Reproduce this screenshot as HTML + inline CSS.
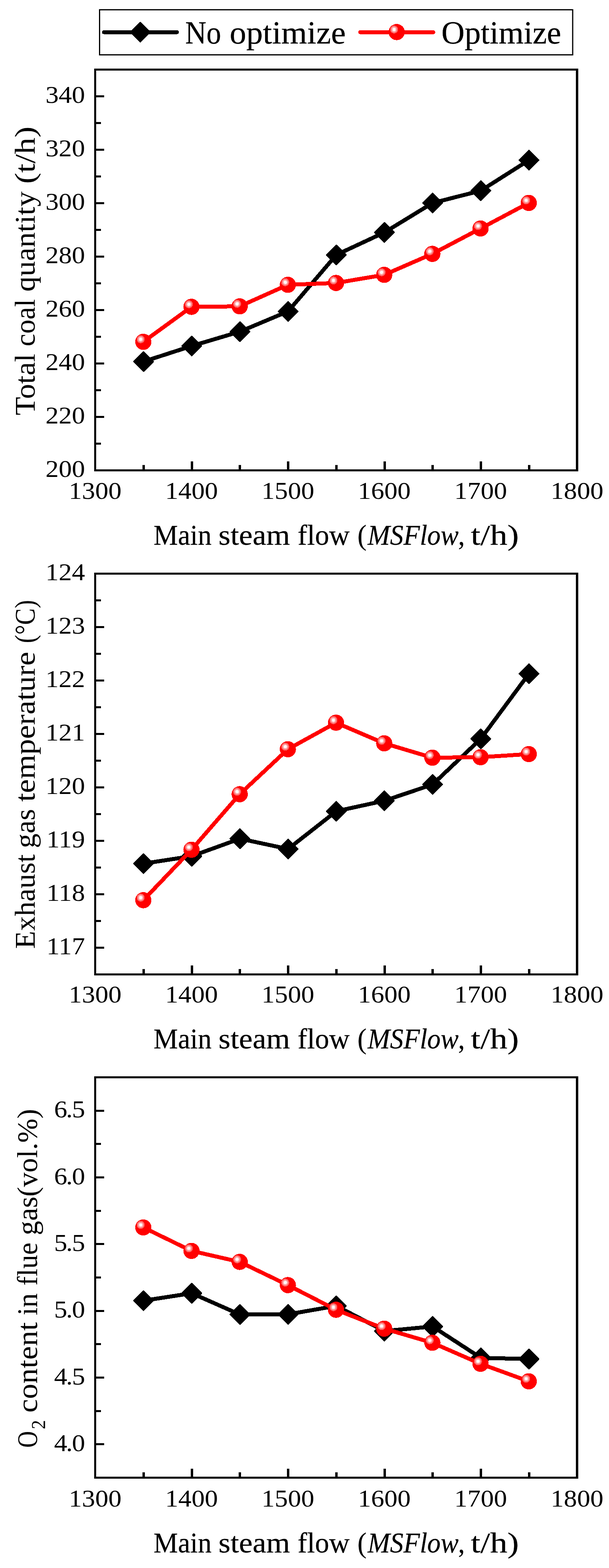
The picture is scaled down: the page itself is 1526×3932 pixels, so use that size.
<!DOCTYPE html>
<html lang="en"><head><meta charset="utf-8"><title>Main steam flow comparison</title>
<style>
html,body{margin:0;padding:0;background:#fff;}
body{width:1526px;height:3932px;overflow:hidden;}
svg{display:block;}
text{font-family:"Liberation Serif", "DejaVu Serif", serif;fill:#000;font-variant-ligatures:none;}
.b{stroke:#000;stroke-width:0.3px;stroke-linejoin:round;}
.fr{fill:#000;shape-rendering:crispEdges;}
.bl{fill:none;stroke:#000;stroke-width:10;stroke-linejoin:round;stroke-linecap:round;shape-rendering:crispEdges;}
.rl{fill:none;stroke:#f00;stroke-width:10;stroke-linejoin:round;stroke-linecap:round;shape-rendering:crispEdges;}
.dm{fill:#000;stroke:#000;stroke-width:3;stroke-linejoin:round;shape-rendering:crispEdges;}
#ball circle{shape-rendering:crispEdges;}
</style></head><body>
<svg width="1526" height="3932" viewBox="0 0 1526 3932">
<defs><g id="ball"><circle cx="0" cy="0" r="20.3" fill="#f00"/><circle cx="-6.5" cy="-6.4" r="10" fill="#ff6666"/><circle cx="-6.5" cy="-6.4" r="7" fill="#ffaaaa"/><circle cx="-6.5" cy="-6.4" r="4" fill="#fff8f8"/></g></defs>
<rect x="0" y="0" width="1526" height="3932" fill="#fff"/>
<rect x="249.5" y="24.5" width="1185.5" height="113" fill="none" stroke="#000" stroke-width="3"/>
<path class="bl" d="M260.5 80.7H443.4"/>
<path class="dm" d="M351.5 56.2L376.0 80.7L351.5 105.2L327.0 80.7Z"/>
<text class="b"><tspan x="464.05" y="109.30" font-size="80.30" textLength="89.85" lengthAdjust="spacingAndGlyphs">No</tspan> <tspan x="575.40" y="109.30" font-size="80.30" textLength="290.93" lengthAdjust="spacingAndGlyphs">optimize</tspan></text>
<path class="rl" d="M902.6 80.7H1085.7"/>
<use href="#ball" x="994.0" y="80.4"/>
<text class="b"><tspan x="1105.98" y="109.30" font-size="80.30" textLength="300.19" lengthAdjust="spacingAndGlyphs">Optimize</tspan></text>
<g class="fr">
<rect x="236" y="172" width="5" height="1010"/>
<rect x="1443" y="172" width="6" height="1010"/>
<rect x="236" y="172" width="1213" height="5"/>
<rect x="236" y="1177" width="1213" height="5"/>
<rect x="240" y="1177.0" width="21" height="5"/>
<rect x="240" y="1043.0" width="21" height="5"/>
<rect x="240" y="909.0" width="21" height="5"/>
<rect x="240" y="775.0" width="21" height="5"/>
<rect x="240" y="641.0" width="21" height="5"/>
<rect x="240" y="507.0" width="21" height="5"/>
<rect x="240" y="373.0" width="21" height="5"/>
<rect x="240" y="239.0" width="21" height="5"/>
<rect x="240" y="1110.0" width="13" height="5"/>
<rect x="240" y="976.0" width="13" height="5"/>
<rect x="240" y="842.0" width="13" height="5"/>
<rect x="240" y="708.0" width="13" height="5"/>
<rect x="240" y="574.0" width="13" height="5"/>
<rect x="240" y="440.0" width="13" height="5"/>
<rect x="240" y="306.0" width="13" height="5"/>
<rect x="477.5" y="1157" width="6" height="21"/>
<rect x="719.0" y="1157" width="6" height="21"/>
<rect x="960.5" y="1157" width="6" height="21"/>
<rect x="1202.0" y="1157" width="6" height="21"/>
<rect x="356.8" y="1166" width="6" height="12"/>
<rect x="598.2" y="1166" width="6" height="12"/>
<rect x="839.8" y="1166" width="6" height="12"/>
<rect x="1081.2" y="1166" width="6" height="12"/>
<rect x="1322.8" y="1166" width="6" height="12"/>
</g>
<text><tspan x="113.95" y="1196.00" font-size="61.00" textLength="99.15" lengthAdjust="spacingAndGlyphs">200</tspan></text>
<text><tspan x="113.95" y="1062.00" font-size="61.00" textLength="99.15" lengthAdjust="spacingAndGlyphs">220</tspan></text>
<text><tspan x="113.95" y="928.00" font-size="61.00" textLength="99.15" lengthAdjust="spacingAndGlyphs">240</tspan></text>
<text><tspan x="113.95" y="794.00" font-size="61.00" textLength="99.15" lengthAdjust="spacingAndGlyphs">260</tspan></text>
<text><tspan x="113.95" y="660.00" font-size="61.00" textLength="99.15" lengthAdjust="spacingAndGlyphs">280</tspan></text>
<text><tspan x="113.95" y="526.00" font-size="61.00" textLength="99.15" lengthAdjust="spacingAndGlyphs">300</tspan></text>
<text><tspan x="113.95" y="392.00" font-size="61.00" textLength="99.15" lengthAdjust="spacingAndGlyphs">320</tspan></text>
<text><tspan x="113.95" y="258.00" font-size="61.00" textLength="99.15" lengthAdjust="spacingAndGlyphs">340</tspan></text>
<text><tspan x="172.30" y="1251.00" font-size="61.00" textLength="132.20" lengthAdjust="spacingAndGlyphs">1300</tspan></text>
<text><tspan x="413.80" y="1251.00" font-size="61.00" textLength="132.20" lengthAdjust="spacingAndGlyphs">1400</tspan></text>
<text><tspan x="655.30" y="1251.00" font-size="61.00" textLength="132.20" lengthAdjust="spacingAndGlyphs">1500</tspan></text>
<text><tspan x="896.80" y="1251.00" font-size="61.00" textLength="132.20" lengthAdjust="spacingAndGlyphs">1600</tspan></text>
<text><tspan x="1138.30" y="1251.00" font-size="61.00" textLength="132.20" lengthAdjust="spacingAndGlyphs">1700</tspan></text>
<text><tspan x="1379.80" y="1251.00" font-size="61.00" textLength="132.20" lengthAdjust="spacingAndGlyphs">1800</tspan></text>
<text class="b"><tspan x="384.82" y="1365.90" font-size="71.60" textLength="145.28" lengthAdjust="spacingAndGlyphs">Main</tspan> <tspan x="547.60" y="1365.90" font-size="71.60" textLength="179.24" lengthAdjust="spacingAndGlyphs">steam</tspan> <tspan x="745.79" y="1365.90" font-size="71.60" textLength="130.35" lengthAdjust="spacingAndGlyphs">flow</tspan> <tspan x="895.77" y="1365.90" font-size="71.60" textLength="22.73" lengthAdjust="spacingAndGlyphs">(</tspan><tspan x="921.35" y="1365.90" font-size="71.60" textLength="227.62" lengthAdjust="spacingAndGlyphs" font-style="italic">MSFlow</tspan><tspan x="1147.90" y="1365.90" font-size="71.60" textLength="16.80" lengthAdjust="spacingAndGlyphs">,</tspan> <tspan x="1179.70" y="1365.90" font-size="71.60" textLength="120.54" lengthAdjust="spacingAndGlyphs">t/h)</tspan></text>
<text transform="translate(87.1,0) rotate(-90)"><tspan x="-1041.58" y="0.00" font-size="72.30" textLength="154.71" lengthAdjust="spacingAndGlyphs">Total</tspan> <tspan x="-868.42" y="0.00" font-size="72.30" textLength="118.49" lengthAdjust="spacingAndGlyphs">coal</tspan> <tspan x="-731.40" y="0.00" font-size="72.30" textLength="251.40" lengthAdjust="spacingAndGlyphs">quantity</tspan> <tspan x="-461.01" y="0.00" font-size="72.30" textLength="143.83" lengthAdjust="spacingAndGlyphs">(t/h)</tspan></text>
<path class="bl" d="M359.7 906.7L480.4 867.6L601.2 831.6L721.9 780.8L842.6 639.2L963.3 582.8L1084.0 509.0L1204.8 478.2L1325.5 401.5"/>
<path class="dm" d="M359.7 882.2L384.2 906.7L359.7 931.2L335.2 906.7Z"/>
<path class="dm" d="M480.4 843.1L504.9 867.6L480.4 892.1L455.9 867.6Z"/>
<path class="dm" d="M601.2 807.1L625.7 831.6L601.2 856.1L576.7 831.6Z"/>
<path class="dm" d="M721.9 756.3L746.4 780.8L721.9 805.3L697.4 780.8Z"/>
<path class="dm" d="M842.6 614.7L867.1 639.2L842.6 663.7L818.1 639.2Z"/>
<path class="dm" d="M963.3 558.3L987.8 582.8L963.3 607.3L938.8 582.8Z"/>
<path class="dm" d="M1084.0 484.5L1108.5 509.0L1084.0 533.5L1059.5 509.0Z"/>
<path class="dm" d="M1204.8 453.7L1229.3 478.2L1204.8 502.7L1180.3 478.2Z"/>
<path class="dm" d="M1325.5 377.0L1350.0 401.5L1325.5 426.0L1301.0 401.5Z"/>
<path class="rl" d="M359.1 857.2L479.8 769.4L600.6 768.2L721.3 714.2L842.0 709.6L962.7 689.2L1083.4 636.6L1204.2 573.0L1324.9 508.8"/>
<use href="#ball" x="359.1" y="857.2"/>
<use href="#ball" x="479.8" y="769.4"/>
<use href="#ball" x="600.6" y="768.2"/>
<use href="#ball" x="721.3" y="714.2"/>
<use href="#ball" x="842.0" y="709.6"/>
<use href="#ball" x="962.7" y="689.2"/>
<use href="#ball" x="1083.4" y="636.6"/>
<use href="#ball" x="1204.2" y="573.0"/>
<use href="#ball" x="1324.9" y="508.8"/>
<g class="fr">
<rect x="236" y="1436" width="5" height="1010"/>
<rect x="1443" y="1436" width="6" height="1010"/>
<rect x="236" y="1436" width="1213" height="5"/>
<rect x="236" y="2441" width="1213" height="5"/>
<rect x="240" y="2374.0" width="21" height="5"/>
<rect x="240" y="2240.0" width="21" height="5"/>
<rect x="240" y="2106.0" width="21" height="5"/>
<rect x="240" y="1972.0" width="21" height="5"/>
<rect x="240" y="1838.0" width="21" height="5"/>
<rect x="240" y="1704.0" width="21" height="5"/>
<rect x="240" y="1570.0" width="21" height="5"/>
<rect x="240" y="1436.0" width="21" height="5"/>
<rect x="240" y="2307.0" width="13" height="5"/>
<rect x="240" y="2173.0" width="13" height="5"/>
<rect x="240" y="2039.0" width="13" height="5"/>
<rect x="240" y="1905.0" width="13" height="5"/>
<rect x="240" y="1771.0" width="13" height="5"/>
<rect x="240" y="1637.0" width="13" height="5"/>
<rect x="240" y="1503.0" width="13" height="5"/>
<rect x="477.5" y="2421" width="6" height="21"/>
<rect x="719.0" y="2421" width="6" height="21"/>
<rect x="960.5" y="2421" width="6" height="21"/>
<rect x="1202.0" y="2421" width="6" height="21"/>
<rect x="356.8" y="2430" width="6" height="12"/>
<rect x="598.2" y="2430" width="6" height="12"/>
<rect x="839.8" y="2430" width="6" height="12"/>
<rect x="1081.2" y="2430" width="6" height="12"/>
<rect x="1322.8" y="2430" width="6" height="12"/>
</g>
<text><tspan x="116.40" y="2393.00" font-size="61.00" textLength="96.70" lengthAdjust="spacingAndGlyphs">117</tspan></text>
<text><tspan x="116.40" y="2259.00" font-size="61.00" textLength="96.70" lengthAdjust="spacingAndGlyphs">118</tspan></text>
<text><tspan x="116.40" y="2125.00" font-size="61.00" textLength="96.70" lengthAdjust="spacingAndGlyphs">119</tspan></text>
<text><tspan x="113.95" y="1991.00" font-size="61.00" textLength="99.15" lengthAdjust="spacingAndGlyphs">120</tspan></text>
<text><tspan x="113.95" y="1857.00" font-size="61.00" textLength="99.15" lengthAdjust="spacingAndGlyphs">121</tspan></text>
<text><tspan x="113.95" y="1723.00" font-size="61.00" textLength="99.15" lengthAdjust="spacingAndGlyphs">122</tspan></text>
<text><tspan x="113.95" y="1589.00" font-size="61.00" textLength="99.15" lengthAdjust="spacingAndGlyphs">123</tspan></text>
<text><tspan x="113.95" y="1455.00" font-size="61.00" textLength="99.15" lengthAdjust="spacingAndGlyphs">124</tspan></text>
<text><tspan x="172.30" y="2514.30" font-size="61.00" textLength="132.20" lengthAdjust="spacingAndGlyphs">1300</tspan></text>
<text><tspan x="413.80" y="2514.30" font-size="61.00" textLength="132.20" lengthAdjust="spacingAndGlyphs">1400</tspan></text>
<text><tspan x="655.30" y="2514.30" font-size="61.00" textLength="132.20" lengthAdjust="spacingAndGlyphs">1500</tspan></text>
<text><tspan x="896.80" y="2514.30" font-size="61.00" textLength="132.20" lengthAdjust="spacingAndGlyphs">1600</tspan></text>
<text><tspan x="1138.30" y="2514.30" font-size="61.00" textLength="132.20" lengthAdjust="spacingAndGlyphs">1700</tspan></text>
<text><tspan x="1379.80" y="2514.30" font-size="61.00" textLength="132.20" lengthAdjust="spacingAndGlyphs">1800</tspan></text>
<text class="b"><tspan x="384.82" y="2629.20" font-size="71.60" textLength="145.28" lengthAdjust="spacingAndGlyphs">Main</tspan> <tspan x="547.60" y="2629.20" font-size="71.60" textLength="179.24" lengthAdjust="spacingAndGlyphs">steam</tspan> <tspan x="745.79" y="2629.20" font-size="71.60" textLength="130.35" lengthAdjust="spacingAndGlyphs">flow</tspan> <tspan x="895.77" y="2629.20" font-size="71.60" textLength="22.73" lengthAdjust="spacingAndGlyphs">(</tspan><tspan x="921.35" y="2629.20" font-size="71.60" textLength="227.62" lengthAdjust="spacingAndGlyphs" font-style="italic">MSFlow</tspan><tspan x="1147.90" y="2629.20" font-size="71.60" textLength="16.80" lengthAdjust="spacingAndGlyphs">,</tspan> <tspan x="1179.70" y="2629.20" font-size="71.60" textLength="120.54" lengthAdjust="spacingAndGlyphs">t/h)</tspan></text>
<text transform="translate(87.3,0) rotate(-90)"><tspan x="-2379.15" y="0.00" font-size="72.30" textLength="236.90" lengthAdjust="spacingAndGlyphs">Exhaust</tspan> <tspan x="-2126.90" y="0.00" font-size="72.30" textLength="98.30" lengthAdjust="spacingAndGlyphs">gas</tspan> <tspan x="-2010.60" y="0.00" font-size="72.30" textLength="376.33" lengthAdjust="spacingAndGlyphs">temperature</tspan> <tspan x="-1612.65" y="0.00" font-size="72.30" textLength="108.21" lengthAdjust="spacingAndGlyphs">(°C)</tspan></text>
<path class="bl" d="M359.7 2165.6L480.4 2147.0L601.2 2103.2L721.9 2129.0L842.6 2034.3L963.3 2008.0L1084.0 1967.2L1204.8 1852.6L1325.5 1689.4"/>
<path class="dm" d="M359.7 2141.1L384.2 2165.6L359.7 2190.1L335.2 2165.6Z"/>
<path class="dm" d="M480.4 2122.5L504.9 2147.0L480.4 2171.5L455.9 2147.0Z"/>
<path class="dm" d="M601.2 2078.7L625.7 2103.2L601.2 2127.7L576.7 2103.2Z"/>
<path class="dm" d="M721.9 2104.5L746.4 2129.0L721.9 2153.5L697.4 2129.0Z"/>
<path class="dm" d="M842.6 2009.8L867.1 2034.3L842.6 2058.8L818.1 2034.3Z"/>
<path class="dm" d="M963.3 1983.5L987.8 2008.0L963.3 2032.5L938.8 2008.0Z"/>
<path class="dm" d="M1084.0 1942.7L1108.5 1967.2L1084.0 1991.7L1059.5 1967.2Z"/>
<path class="dm" d="M1204.8 1828.1L1229.3 1852.6L1204.8 1877.1L1180.3 1852.6Z"/>
<path class="dm" d="M1325.5 1664.9L1350.0 1689.4L1325.5 1713.9L1301.0 1689.4Z"/>
<path class="rl" d="M359.1 2257.4L479.8 2130.8L600.6 1991.6L721.3 1878.8L842.0 1812.3L962.7 1864.0L1083.4 1900.0L1204.2 1898.8L1324.9 1891.0"/>
<use href="#ball" x="359.1" y="2257.4"/>
<use href="#ball" x="479.8" y="2130.8"/>
<use href="#ball" x="600.6" y="1991.6"/>
<use href="#ball" x="721.3" y="1878.8"/>
<use href="#ball" x="842.0" y="1812.3"/>
<use href="#ball" x="962.7" y="1864.0"/>
<use href="#ball" x="1083.4" y="1900.0"/>
<use href="#ball" x="1204.2" y="1898.8"/>
<use href="#ball" x="1324.9" y="1891.0"/>
<g class="fr">
<rect x="236" y="2699" width="5" height="1009"/>
<rect x="1443" y="2699" width="6" height="1009"/>
<rect x="236" y="2699" width="1213" height="5"/>
<rect x="236" y="3703" width="1213" height="5"/>
<rect x="240" y="3619.3" width="21" height="5"/>
<rect x="240" y="3452.0" width="21" height="5"/>
<rect x="240" y="3284.7" width="21" height="5"/>
<rect x="240" y="3117.3" width="21" height="5"/>
<rect x="240" y="2950.0" width="21" height="5"/>
<rect x="240" y="2782.7" width="21" height="5"/>
<rect x="240" y="3535.7" width="13" height="5"/>
<rect x="240" y="3368.3" width="13" height="5"/>
<rect x="240" y="3201.0" width="13" height="5"/>
<rect x="240" y="3033.7" width="13" height="5"/>
<rect x="240" y="2866.3" width="13" height="5"/>
<rect x="477.5" y="3683" width="6" height="21"/>
<rect x="719.0" y="3683" width="6" height="21"/>
<rect x="960.5" y="3683" width="6" height="21"/>
<rect x="1202.0" y="3683" width="6" height="21"/>
<rect x="356.8" y="3692" width="6" height="12"/>
<rect x="598.2" y="3692" width="6" height="12"/>
<rect x="839.8" y="3692" width="6" height="12"/>
<rect x="1081.2" y="3692" width="6" height="12"/>
<rect x="1322.8" y="3692" width="6" height="12"/>
</g>
<text transform="translate(135.4,3638.83) scale(1.0836,1)" font-size="61.00" x="0 27.69 41.34">4.0</text>
<text transform="translate(135.4,3471.50) scale(1.0836,1)" font-size="61.00" x="0 27.69 41.34">4.5</text>
<text transform="translate(135.4,3304.17) scale(1.0836,1)" font-size="61.00" x="0 27.69 41.34">5.0</text>
<text transform="translate(135.4,3136.83) scale(1.0836,1)" font-size="61.00" x="0 27.69 41.34">5.5</text>
<text transform="translate(135.4,2969.50) scale(1.0836,1)" font-size="61.00" x="0 27.69 41.34">6.0</text>
<text transform="translate(135.4,2802.17) scale(1.0836,1)" font-size="61.00" x="0 27.69 41.34">6.5</text>
<text><tspan x="172.30" y="3777.60" font-size="61.00" textLength="132.20" lengthAdjust="spacingAndGlyphs">1300</tspan></text>
<text><tspan x="413.80" y="3777.60" font-size="61.00" textLength="132.20" lengthAdjust="spacingAndGlyphs">1400</tspan></text>
<text><tspan x="655.30" y="3777.60" font-size="61.00" textLength="132.20" lengthAdjust="spacingAndGlyphs">1500</tspan></text>
<text><tspan x="896.80" y="3777.60" font-size="61.00" textLength="132.20" lengthAdjust="spacingAndGlyphs">1600</tspan></text>
<text><tspan x="1138.30" y="3777.60" font-size="61.00" textLength="132.20" lengthAdjust="spacingAndGlyphs">1700</tspan></text>
<text><tspan x="1379.80" y="3777.60" font-size="61.00" textLength="132.20" lengthAdjust="spacingAndGlyphs">1800</tspan></text>
<text class="b"><tspan x="384.82" y="3892.50" font-size="71.60" textLength="145.28" lengthAdjust="spacingAndGlyphs">Main</tspan> <tspan x="547.60" y="3892.50" font-size="71.60" textLength="179.24" lengthAdjust="spacingAndGlyphs">steam</tspan> <tspan x="745.79" y="3892.50" font-size="71.60" textLength="130.35" lengthAdjust="spacingAndGlyphs">flow</tspan> <tspan x="895.77" y="3892.50" font-size="71.60" textLength="22.73" lengthAdjust="spacingAndGlyphs">(</tspan><tspan x="921.35" y="3892.50" font-size="71.60" textLength="227.62" lengthAdjust="spacingAndGlyphs" font-style="italic">MSFlow</tspan><tspan x="1147.90" y="3892.50" font-size="71.60" textLength="16.80" lengthAdjust="spacingAndGlyphs">,</tspan> <tspan x="1179.70" y="3892.50" font-size="71.60" textLength="120.54" lengthAdjust="spacingAndGlyphs">t/h)</tspan></text>
<text transform="translate(93,0) rotate(-90)"><tspan x="-3630.20" y="0.00" font-size="72.30" textLength="41.49" lengthAdjust="spacingAndGlyphs">O</tspan><tspan x="-3584.04" y="19.90" font-size="50.00" textLength="22.99" lengthAdjust="spacingAndGlyphs">2</tspan> <tspan x="-3542.41" y="0.00" font-size="72.30" textLength="226.85" lengthAdjust="spacingAndGlyphs">content</tspan> <tspan x="-3298.52" y="0.00" font-size="72.30" textLength="55.52" lengthAdjust="spacingAndGlyphs">in</tspan> <tspan x="-3223.99" y="0.00" font-size="72.30" textLength="108.22" lengthAdjust="spacingAndGlyphs">flue</tspan> <tspan x="-3097.67" y="0.00" font-size="72.30" textLength="317.00" lengthAdjust="spacingAndGlyphs">gas(vol.%)</tspan></text>
<path class="bl" d="M359.7 3261.6L480.4 3243.0L601.2 3296.4L721.9 3295.8L842.6 3274.8L963.3 3337.8L1084.0 3326.4L1204.8 3405.0L1325.5 3408.0"/>
<path class="dm" d="M359.7 3237.1L384.2 3261.6L359.7 3286.1L335.2 3261.6Z"/>
<path class="dm" d="M480.4 3218.5L504.9 3243.0L480.4 3267.5L455.9 3243.0Z"/>
<path class="dm" d="M601.2 3271.9L625.7 3296.4L601.2 3320.9L576.7 3296.4Z"/>
<path class="dm" d="M721.9 3271.3L746.4 3295.8L721.9 3320.3L697.4 3295.8Z"/>
<path class="dm" d="M842.6 3250.3L867.1 3274.8L842.6 3299.3L818.1 3274.8Z"/>
<path class="dm" d="M963.3 3313.3L987.8 3337.8L963.3 3362.3L938.8 3337.8Z"/>
<path class="dm" d="M1084.0 3301.9L1108.5 3326.4L1084.0 3350.9L1059.5 3326.4Z"/>
<path class="dm" d="M1204.8 3380.5L1229.3 3405.0L1204.8 3429.5L1180.3 3405.0Z"/>
<path class="dm" d="M1325.5 3383.5L1350.0 3408.0L1325.5 3432.5L1301.0 3408.0Z"/>
<path class="rl" d="M359.1 3078.0L479.8 3136.8L600.6 3164.4L721.3 3222.6L842.0 3284.4L962.7 3331.8L1083.4 3367.2L1204.2 3420.0L1324.9 3463.8"/>
<use href="#ball" x="359.1" y="3078.0"/>
<use href="#ball" x="479.8" y="3136.8"/>
<use href="#ball" x="600.6" y="3164.4"/>
<use href="#ball" x="721.3" y="3222.6"/>
<use href="#ball" x="842.0" y="3284.4"/>
<use href="#ball" x="962.7" y="3331.8"/>
<use href="#ball" x="1083.4" y="3367.2"/>
<use href="#ball" x="1204.2" y="3420.0"/>
<use href="#ball" x="1324.9" y="3463.8"/>
</svg>
</body></html>
